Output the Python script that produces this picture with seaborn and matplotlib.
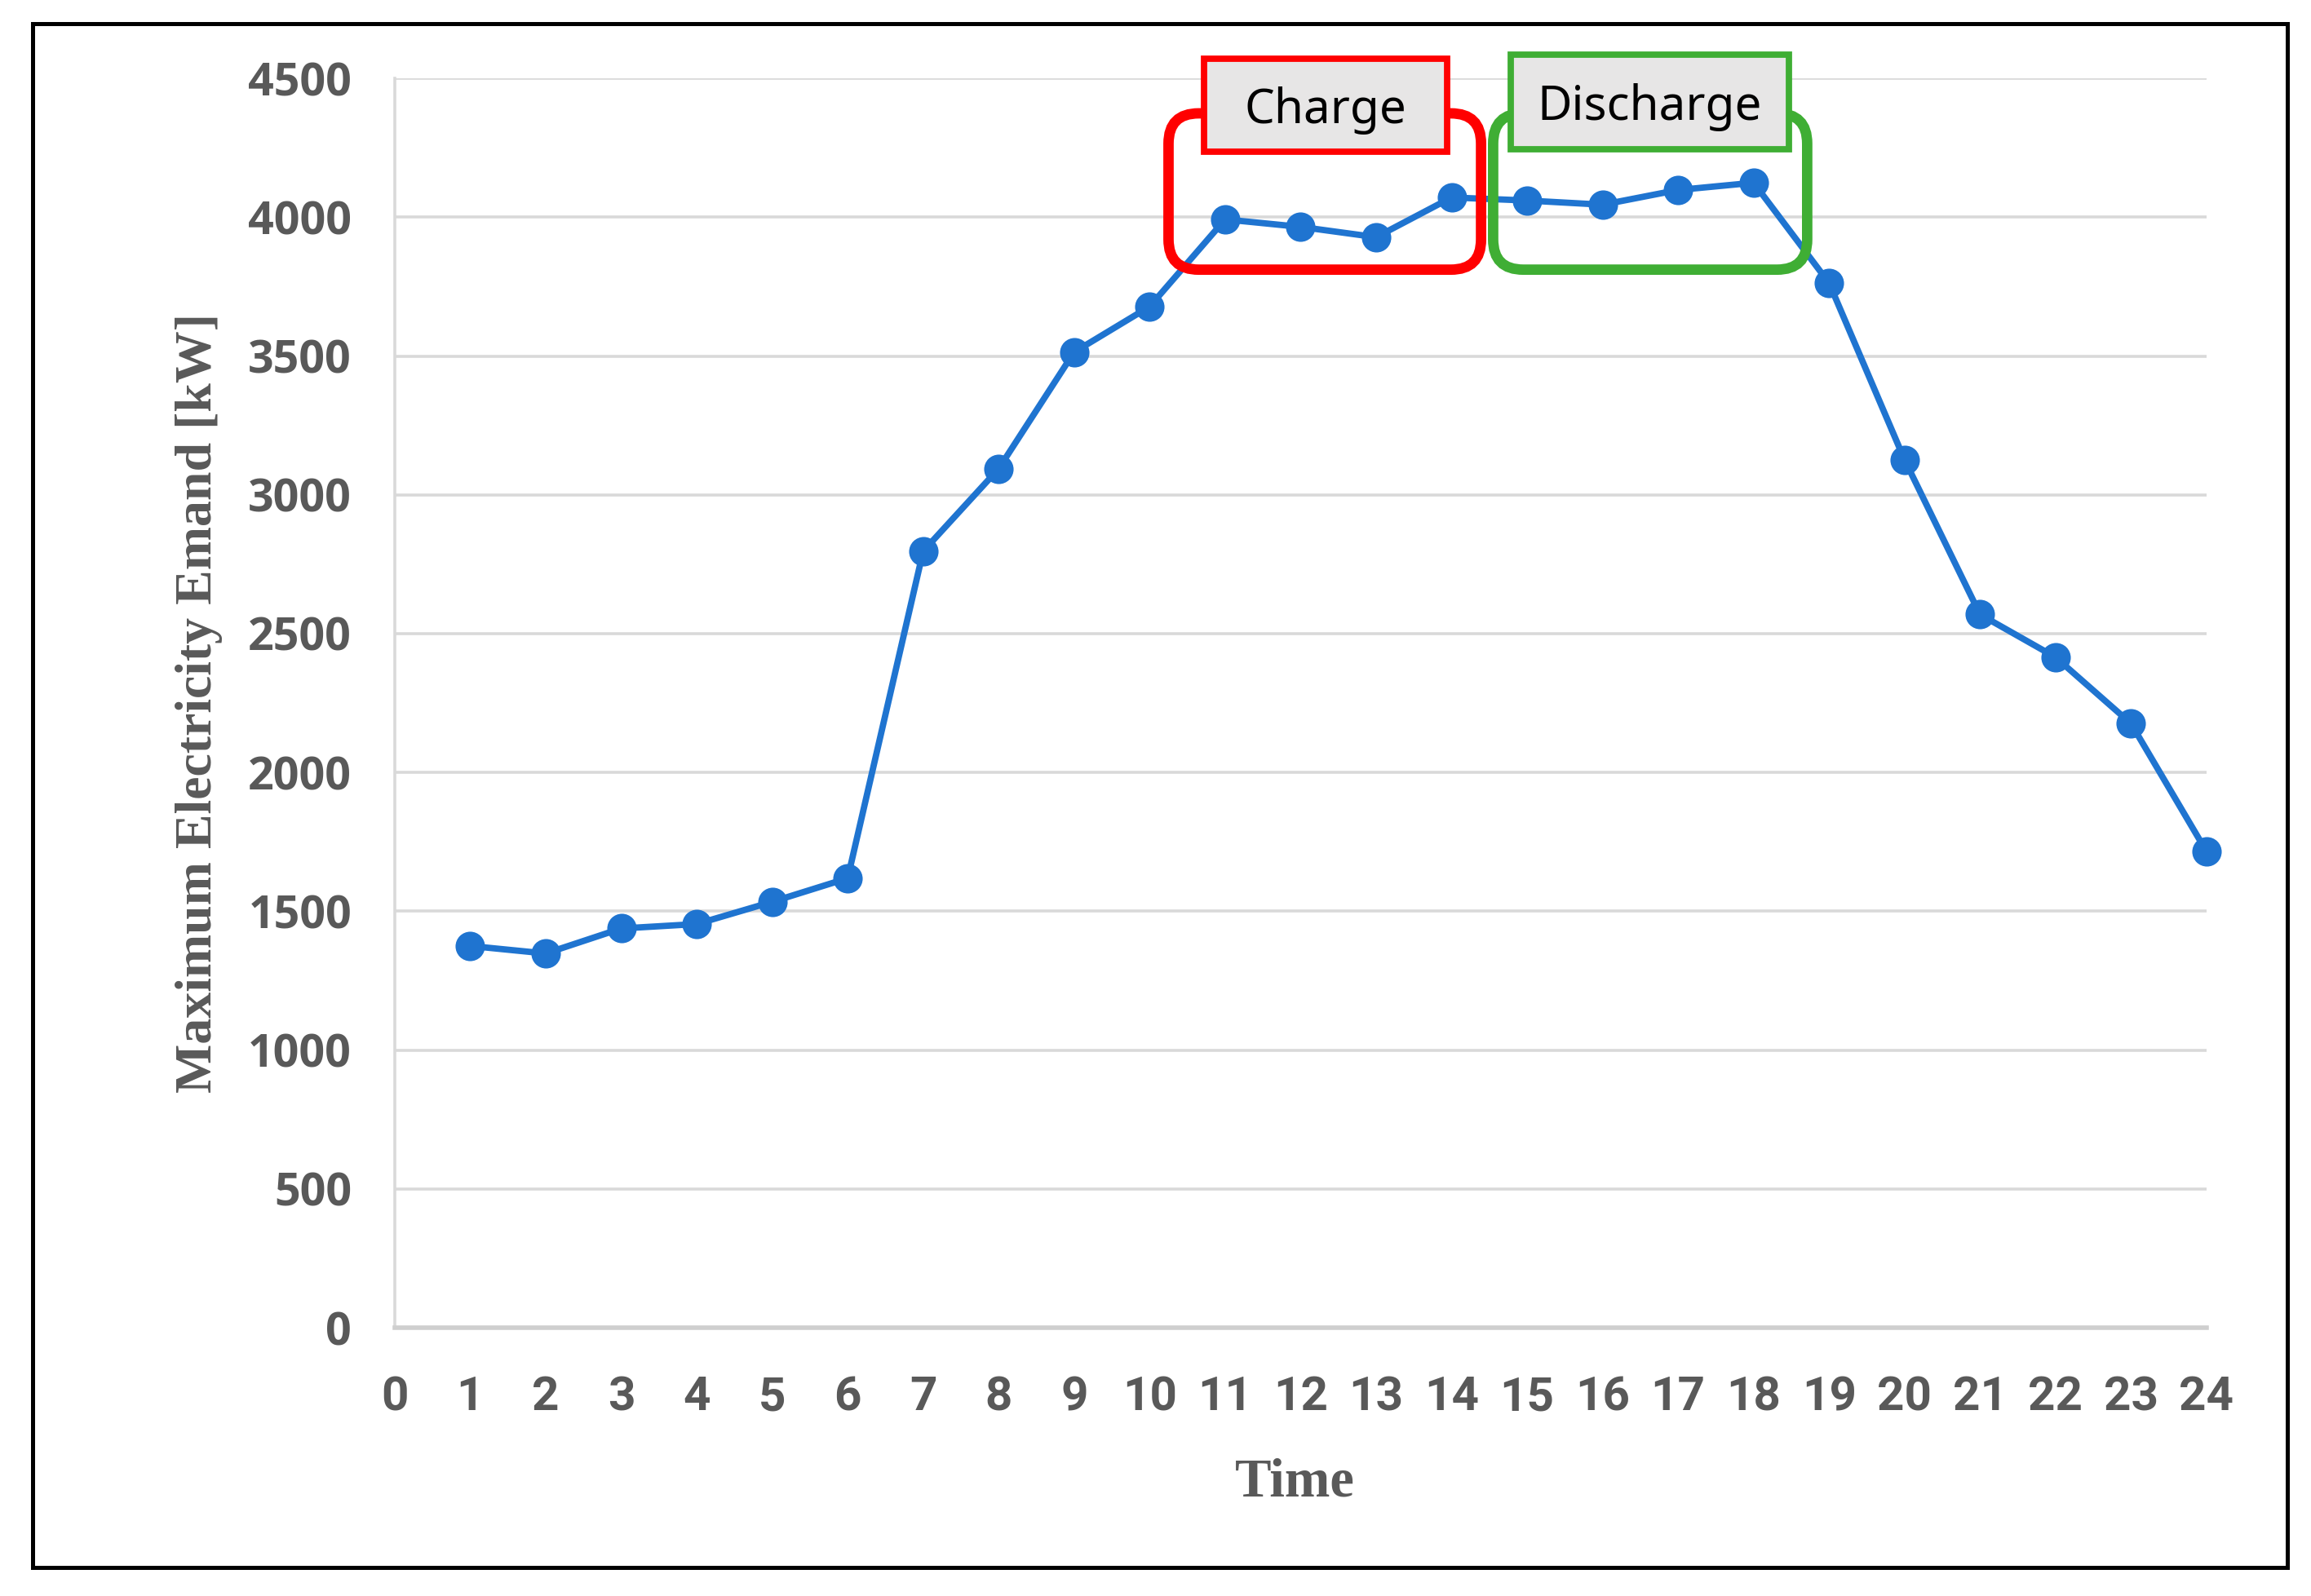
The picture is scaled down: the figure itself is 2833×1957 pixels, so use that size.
import matplotlib
matplotlib.use("Agg")

import matplotlib.pyplot as plt
from matplotlib.patches import FancyBboxPatch, Rectangle
import seaborn as sns

# --- data ---
HOURS = list(range(1, 25))
DEMAND = [1375, 1348, 1438, 1454, 1534, 1619, 2797, 3094, 3514, 3678, 3992, 3965,
          3928, 4071, 4060, 4045, 4098, 4124, 3763, 3126, 2569, 2415, 2176, 1715]
Y_TICKS = list(range(0, 4501, 500))
X_TICKS = list(range(0, 25))

# annotation regions: (x0, x1, y0, y1) in data units
CHARGE_REGION = (10.25, 14.39, 3811, 4374)
CHARGE_LABEL = (10.72, 13.94, 4236, 4570)
DISCHARGE_REGION = (14.55, 18.71, 3811, 4374)
DISCHARGE_LABEL = (14.78, 18.47, 4246, 4586)

LINE_COLOR = "#1f74d0"
TICK_COLOR = "#595959"
GRID_COLOR = "#d9d9d9"
RED = "#ff0000"
GREEN = "#3fae34"

sns.set_theme(style="white")
plt.rcParams["font.family"] = ["Noto Sans", "DejaVu Sans"]

DPI = 200
fig = plt.figure(figsize=(2833 / DPI, 1957 / DPI), dpi=DPI)
AX_POS = [0.1708, 0.1681, 0.784, 0.7828]
ax = fig.add_axes(AX_POS)

sns.lineplot(x=HOURS, y=DEMAND, marker="o", color=LINE_COLOR, linewidth=2.8,
             markersize=13, markeredgewidth=0, ax=ax, clip_on=False, zorder=3)

ax.set_xlim(0, 24)
ax.set_ylim(0, 4500)
ax.set_xticks(X_TICKS)
ax.set_yticks(Y_TICKS)
ax.yaxis.grid(True, color=GRID_COLOR, linewidth=1.3, zorder=0)
ax.xaxis.grid(False)
ax.set_axisbelow(True)

for side in ["top", "right"]:
    ax.spines[side].set_visible(False)
ax.spines["left"].set_color(GRID_COLOR)
ax.spines["left"].set_linewidth(1.3)
ax.spines["bottom"].set_color("#cfcfcf")
ax.spines["bottom"].set_linewidth(2.0)

ax.tick_params(axis="both", length=0)
ax.tick_params(axis="x", pad=21)
ax.tick_params(axis="y", pad=19)
for lab in ax.get_yticklabels():
    lab.set_fontfamily(["Open Sans", "DejaVu Sans"])
    lab.set_fontweight("bold")
    lab.set_fontsize(20)
    lab.set_color(TICK_COLOR)
for lab in ax.get_xticklabels():
    lab.set_fontfamily(["Liberation Sans Narrow", "Roboto", "DejaVu Sans"])
    lab.set_fontweight("bold")
    lab.set_fontsize(21)
    lab.set_color(TICK_COLOR)

serif = ["Liberation Serif", "DejaVu Serif"]
ax.set_ylabel("Maximum Electricity Emand [kW]", family=serif, fontweight="bold",
              fontsize=23, color=TICK_COLOR)
ax.set_xlabel("Time", family=serif, fontweight="bold", fontsize=24, color=TICK_COLOR)
ax.yaxis.set_label_coords(-0.095, 0.5)
ax.xaxis.set_label_coords(0.497, -0.104)

# aspect between y and x data units per pixel, for round corners
ax_w = fig.get_figwidth() * DPI * AX_POS[2]
ax_h = fig.get_figheight() * DPI * AX_POS[3]
aspect = (4500 / ax_h) / (24 / ax_w)


def region_box(reg, color):
    x0, x1, y0, y1 = reg
    box = FancyBboxPatch((x0, y0), x1 - x0, y1 - y0,
                         boxstyle="round,pad=0,rounding_size=0.4",
                         mutation_aspect=aspect, fill=False, edgecolor=color,
                         linewidth=4.6, zorder=4, clip_on=False)
    ax.add_patch(box)


def label_box(reg, color, text):
    x0, x1, y0, y1 = reg
    ax.add_patch(Rectangle((x0, y0), x1 - x0, y1 - y0, facecolor="#e7e6e6",
                           edgecolor=color, linewidth=2.8, zorder=5, clip_on=False))
    ax.text((x0 + x1) / 2, (y0 + y1) / 2 - 20, text, ha="center", va="center",
            fontsize=21, color="black", zorder=6, clip_on=False)


region_box(CHARGE_REGION, RED)
region_box(DISCHARGE_REGION, GREEN)
label_box(CHARGE_LABEL, RED, "Charge")
label_box(DISCHARGE_LABEL, GREEN, "Discharge")

# outer black frame
fig.add_artist(Rectangle((40 / 2833, 1 - 1922 / 1957), (2804 - 40) / 2833,
                         (1922 - 29) / 1957, transform=fig.transFigure,
                         fill=False, edgecolor="black", linewidth=1.8))

fig.savefig("out.png", dpi=DPI, facecolor="white")
